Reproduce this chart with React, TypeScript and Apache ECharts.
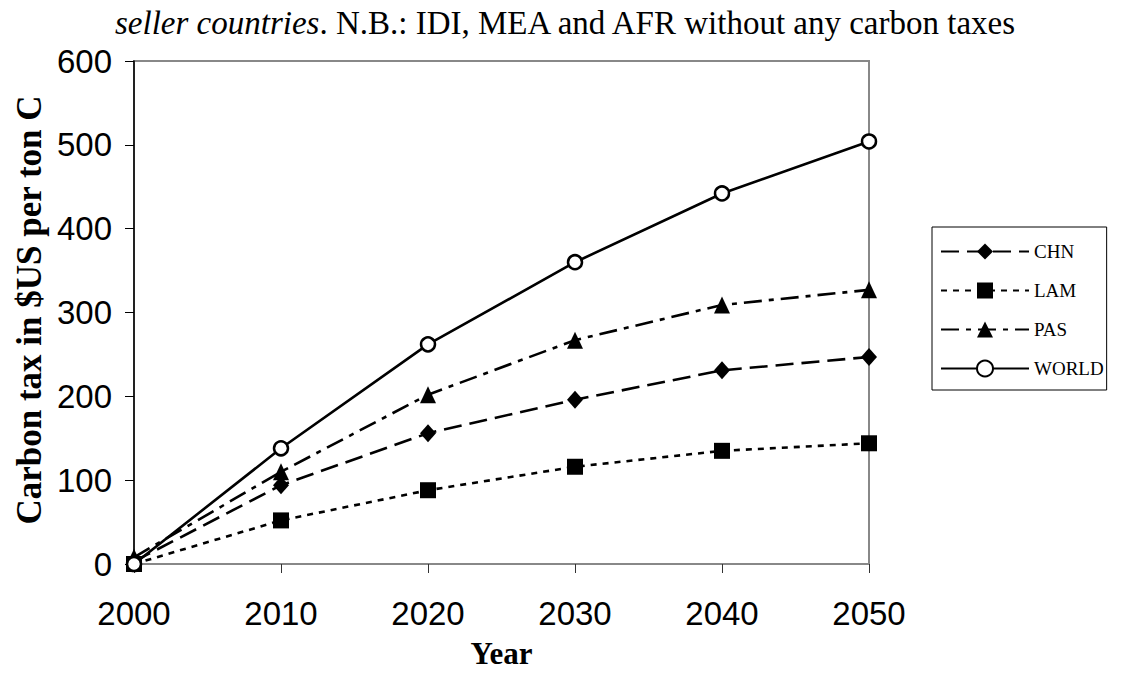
import React, { useEffect, useRef } from "react";
import * as echarts from "echarts";

const years = [2000, 2010, 2020, 2030, 2040, 2050];
const chn = [3, 94, 156, 196, 231, 247];
const lam = [0, 52, 88, 116, 135, 144];
const pas = [8, 110, 202, 267, 309, 327];
const world = [0, 138, 262, 360, 442, 504];
const yTicks = [0, 100, 200, 300, 400, 500, 600];

const SERIF = "'Liberation Serif', 'Times New Roman', serif";
const SANS = "'Liberation Sans', Arial, sans-serif";

const pairs = (vals: number[]) => years.map((y, i) => [y, vals[i]]);

export default function App() {
  const ref = useRef<HTMLDivElement>(null);
  useEffect(() => {
    if (!ref.current) return;
    const chart = echarts.init(ref.current, null, { renderer: "svg" });
    const baseLine = { color: "#000", width: 2.6 };
    chart.setOption({
      animation: false,
      backgroundColor: "#fff",
      title: {
        text: "{i|seller countries}. N.B.: IDI, MEA and AFR without any carbon taxes",
        left: 110,
        top: 1,
        textStyle: {
          fontFamily: SERIF,
          fontSize: 33,
          fontWeight: "normal",
          color: "#000",
          rich: {
            i: { fontFamily: SERIF, fontSize: 33, fontStyle: "italic", color: "#000" },
          },
        },
      },
      grid: {
        left: 134,
        right: 1128 - 869,
        top: 61,
        bottom: 698 - 564,
        show: true,
        borderColor: "#888",
        borderWidth: 2,
        backgroundColor: "#fff",
      },
      legend: {
        orient: "vertical",
        left: 932,
        top: 227,
        padding: [15, 3, 12, 8],
        itemGap: 20,
        itemWidth: 88,
        itemHeight: 20,
        borderColor: "#000",
        borderWidth: 1,
        textStyle: { fontFamily: SERIF, fontSize: 19, color: "#000" },
        data: ["CHN", "LAM", "PAS", "WORLD"],
      },
      xAxis: {
        type: "value",
        min: 2000,
        max: 2050,
        interval: 10,
        name: "Year",
        nameLocation: "middle",
        nameGap: 74,
        nameTextStyle: { fontFamily: SERIF, fontSize: 31, fontWeight: "bold", color: "#000" },
        axisLine: { show: true, lineStyle: { color: "#888", width: 2 } },
        axisTick: { show: true, length: 9, lineStyle: { color: "#333", width: 1 } },
        axisLabel: {
          fontFamily: SANS,
          fontSize: 33,
          color: "#000",
          margin: 33,
          formatter: (v: number) => String(v),
        },
        splitLine: { show: false },
      },
      yAxis: {
        type: "value",
        min: 0,
        max: 600,
        interval: 100,
        axisLine: { show: true, lineStyle: { color: "#000", width: 1.5 } },
        axisTick: { show: true, length: 9, lineStyle: { color: "#000", width: 1 } },
        axisLabel: {
          fontFamily: SANS,
          fontSize: 33,
          color: "#000",
          margin: 22,
          formatter: (v: number) => (yTicks.includes(v) ? String(v) : ""),
        },
        splitLine: { show: false },
      },
      graphic: [
        {
          type: "text",
          x: 29,
          y: 310,
          rotation: Math.PI / 2,
          style: {
            text: "Carbon tax in $US per ton C",
            fontFamily: SERIF,
            fontSize: 35,
            fontWeight: "bold",
            fill: "#000",
            align: "center",
            verticalAlign: "middle",
          },
        },
      ],
      series: [
        {
          name: "CHN",
          type: "line",
          data: pairs(chn),
          symbol: "diamond",
          symbolSize: [16, 18],
          lineStyle: { ...baseLine, type: [18, 8] },
          itemStyle: { color: "#000" },
          z: 3,
        },
        {
          name: "LAM",
          type: "line",
          data: pairs(lam),
          symbol: "rect",
          symbolSize: 16,
          lineStyle: { ...baseLine, type: [6, 6] },
          itemStyle: { color: "#000" },
          z: 3,
        },
        {
          name: "PAS",
          type: "line",
          data: pairs(pas),
          symbol: "triangle",
          symbolSize: [16, 17],
          lineStyle: { ...baseLine, type: [18, 7, 5, 7] },
          itemStyle: { color: "#000" },
          z: 3,
        },
        {
          name: "WORLD",
          type: "line",
          data: pairs(world),
          symbol: "circle",
          symbolSize: 14,
          lineStyle: { ...baseLine, type: "solid" },
          itemStyle: { color: "#fff", borderColor: "#000", borderWidth: 2.5 },
          z: 4,
        },
      ],
    });
    return () => chart.dispose();
  }, []);
  return <div ref={ref} style={{ width: 1128, height: 698, margin: -8 }} />;
}
